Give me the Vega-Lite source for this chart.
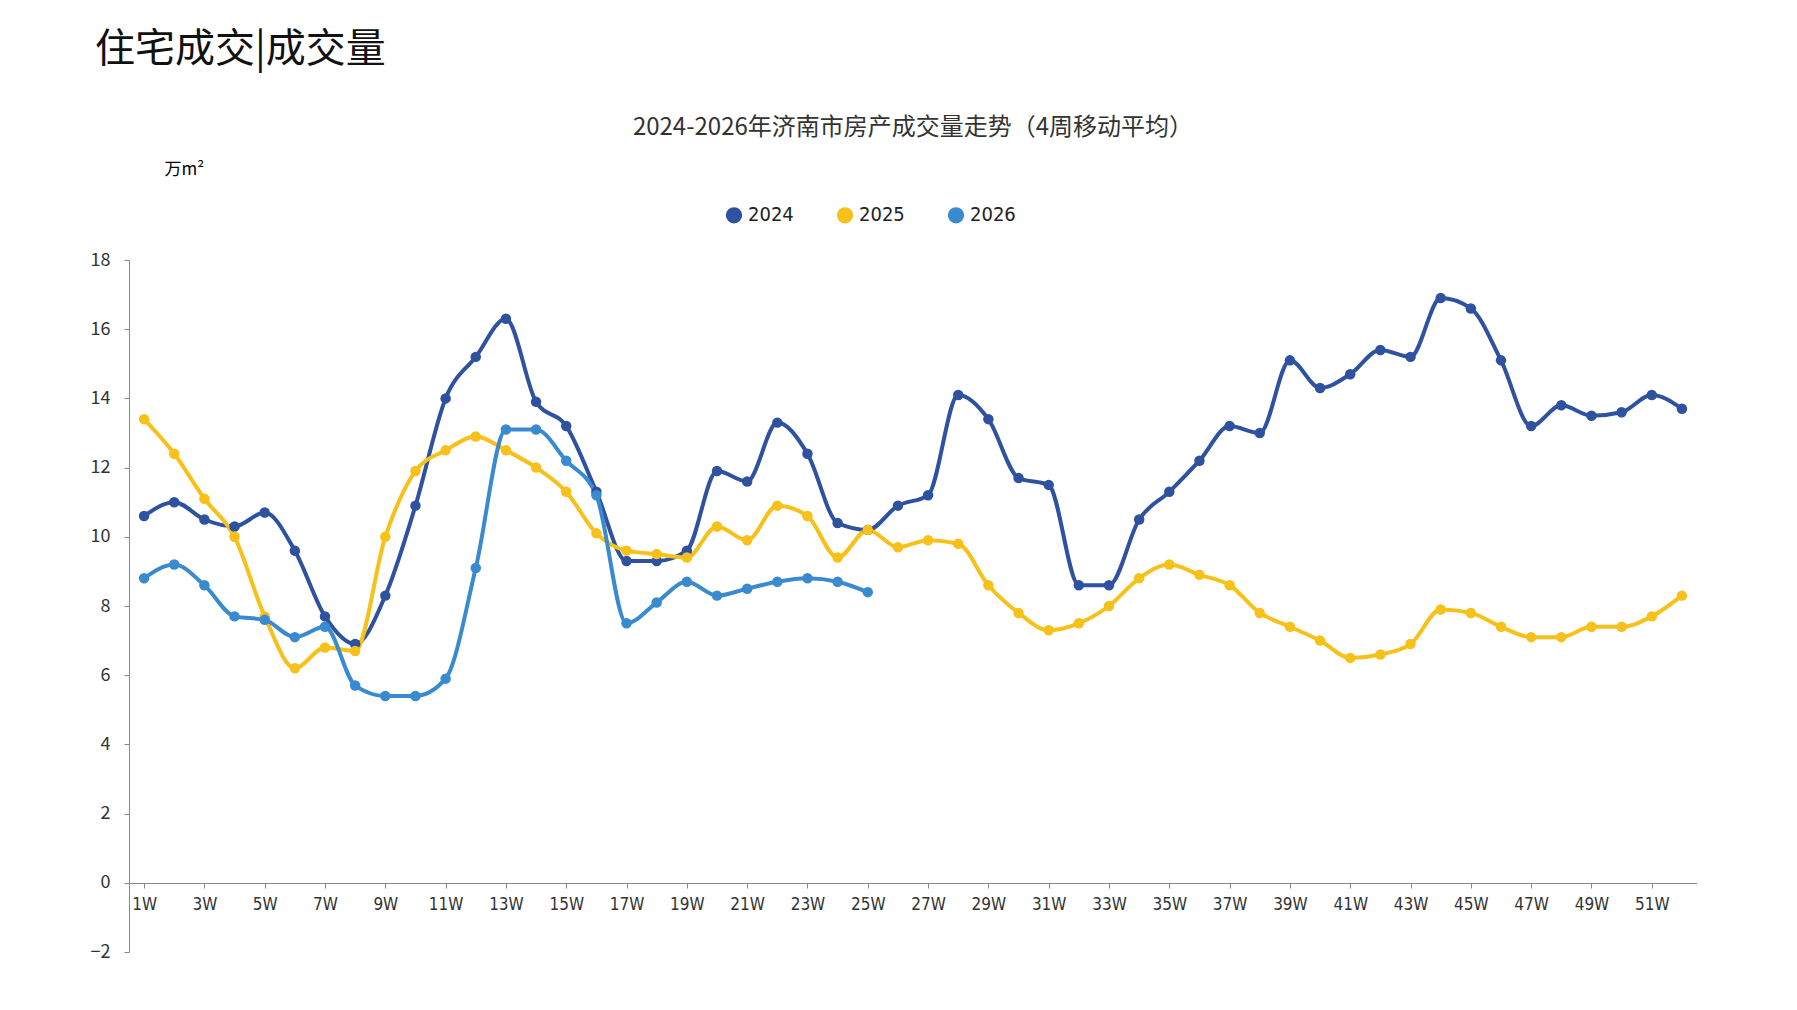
{
  "$schema": "https://vega.github.io/schema/vega-lite/v6.json",
  "padding": {"left": 90, "top": 30, "right": 0, "bottom": 0},
  "background": "white",
  "title": {"text": "住宅成交|成交量", "anchor": "start", "frame": "group", "fontSize": 40, "font": "Noto Sans CJK SC", "fontWeight": "normal", "color": "#111", "dx": -34, "offset": 46},
  "vconcat": [
    {
      "width": 1568,
      "height": 692,
      "title": {"text": "2024-2026年济南市房产成交量走势（4周移动平均）", "anchor": "middle", "fontSize": 24, "font": "Noto Sans CJK SC", "fontWeight": "normal", "color": "#333", "offset": 20},
      "data": {"values": [
        {"s":"2024","w":1,"v":10.6},{"s":"2024","w":2,"v":11.0},{"s":"2024","w":3,"v":10.5},{"s":"2024","w":4,"v":10.3},{"s":"2024","w":5,"v":10.7},{"s":"2024","w":6,"v":9.6},{"s":"2024","w":7,"v":7.7},{"s":"2024","w":8,"v":6.9},{"s":"2024","w":9,"v":8.3},{"s":"2024","w":10,"v":10.9},{"s":"2024","w":11,"v":14.0},{"s":"2024","w":12,"v":15.2},{"s":"2024","w":13,"v":16.3},{"s":"2024","w":14,"v":13.9},{"s":"2024","w":15,"v":13.2},{"s":"2024","w":16,"v":11.3},{"s":"2024","w":17,"v":9.3},{"s":"2024","w":18,"v":9.3},{"s":"2024","w":19,"v":9.6},{"s":"2024","w":20,"v":11.9},{"s":"2024","w":21,"v":11.6},{"s":"2024","w":22,"v":13.3},{"s":"2024","w":23,"v":12.4},{"s":"2024","w":24,"v":10.4},{"s":"2024","w":25,"v":10.2},{"s":"2024","w":26,"v":10.9},{"s":"2024","w":27,"v":11.2},{"s":"2024","w":28,"v":14.1},{"s":"2024","w":29,"v":13.4},{"s":"2024","w":30,"v":11.7},{"s":"2024","w":31,"v":11.5},{"s":"2024","w":32,"v":8.6},{"s":"2024","w":33,"v":8.6},{"s":"2024","w":34,"v":10.5},{"s":"2024","w":35,"v":11.3},{"s":"2024","w":36,"v":12.2},{"s":"2024","w":37,"v":13.2},{"s":"2024","w":38,"v":13.0},{"s":"2024","w":39,"v":15.1},{"s":"2024","w":40,"v":14.3},{"s":"2024","w":41,"v":14.7},{"s":"2024","w":42,"v":15.4},{"s":"2024","w":43,"v":15.2},{"s":"2024","w":44,"v":16.9},{"s":"2024","w":45,"v":16.6},{"s":"2024","w":46,"v":15.1},{"s":"2024","w":47,"v":13.2},{"s":"2024","w":48,"v":13.8},{"s":"2024","w":49,"v":13.5},{"s":"2024","w":50,"v":13.6},{"s":"2024","w":51,"v":14.1},{"s":"2024","w":52,"v":13.7},
        {"s":"2025","w":1,"v":13.4},{"s":"2025","w":2,"v":12.4},{"s":"2025","w":3,"v":11.1},{"s":"2025","w":4,"v":10.0},{"s":"2025","w":5,"v":7.7},{"s":"2025","w":6,"v":6.2},{"s":"2025","w":7,"v":6.8},{"s":"2025","w":8,"v":6.7},{"s":"2025","w":9,"v":10.0},{"s":"2025","w":10,"v":11.9},{"s":"2025","w":11,"v":12.5},{"s":"2025","w":12,"v":12.9},{"s":"2025","w":13,"v":12.5},{"s":"2025","w":14,"v":12.0},{"s":"2025","w":15,"v":11.3},{"s":"2025","w":16,"v":10.1},{"s":"2025","w":17,"v":9.6},{"s":"2025","w":18,"v":9.5},{"s":"2025","w":19,"v":9.4},{"s":"2025","w":20,"v":10.3},{"s":"2025","w":21,"v":9.9},{"s":"2025","w":22,"v":10.9},{"s":"2025","w":23,"v":10.6},{"s":"2025","w":24,"v":9.4},{"s":"2025","w":25,"v":10.2},{"s":"2025","w":26,"v":9.7},{"s":"2025","w":27,"v":9.9},{"s":"2025","w":28,"v":9.8},{"s":"2025","w":29,"v":8.6},{"s":"2025","w":30,"v":7.8},{"s":"2025","w":31,"v":7.3},{"s":"2025","w":32,"v":7.5},{"s":"2025","w":33,"v":8.0},{"s":"2025","w":34,"v":8.8},{"s":"2025","w":35,"v":9.2},{"s":"2025","w":36,"v":8.9},{"s":"2025","w":37,"v":8.6},{"s":"2025","w":38,"v":7.8},{"s":"2025","w":39,"v":7.4},{"s":"2025","w":40,"v":7.0},{"s":"2025","w":41,"v":6.5},{"s":"2025","w":42,"v":6.6},{"s":"2025","w":43,"v":6.9},{"s":"2025","w":44,"v":7.9},{"s":"2025","w":45,"v":7.8},{"s":"2025","w":46,"v":7.4},{"s":"2025","w":47,"v":7.1},{"s":"2025","w":48,"v":7.1},{"s":"2025","w":49,"v":7.4},{"s":"2025","w":50,"v":7.4},{"s":"2025","w":51,"v":7.7},{"s":"2025","w":52,"v":8.3},
        {"s":"2026","w":1,"v":8.8},{"s":"2026","w":2,"v":9.2},{"s":"2026","w":3,"v":8.6},{"s":"2026","w":4,"v":7.7},{"s":"2026","w":5,"v":7.6},{"s":"2026","w":6,"v":7.1},{"s":"2026","w":7,"v":7.4},{"s":"2026","w":8,"v":5.7},{"s":"2026","w":9,"v":5.4},{"s":"2026","w":10,"v":5.4},{"s":"2026","w":11,"v":5.9},{"s":"2026","w":12,"v":9.1},{"s":"2026","w":13,"v":13.1},{"s":"2026","w":14,"v":13.1},{"s":"2026","w":15,"v":12.2},{"s":"2026","w":16,"v":11.2},{"s":"2026","w":17,"v":7.5},{"s":"2026","w":18,"v":8.1},{"s":"2026","w":19,"v":8.7},{"s":"2026","w":20,"v":8.3},{"s":"2026","w":21,"v":8.5},{"s":"2026","w":22,"v":8.7},{"s":"2026","w":23,"v":8.8},{"s":"2026","w":24,"v":8.7},{"s":"2026","w":25,"v":8.4}
      ]},
      "mark": {"type": "line", "interpolate": "monotone", "strokeWidth": 4, "point": {"size": 110, "filled": true, "opacity": 1}},
      "encoding": {
        "x": {"field": "w", "type": "quantitative", "scale": {"domain": [0.5, 52.5], "nice": false, "zero": false},
          "axis": {"values": [1,3,5,7,9,11,13,15,17,19,21,23,25,27,29,31,33,35,37,39,41,43,45,47,49,51], "labelExpr": "datum.value + 'W'", "grid": false, "title": null, "labelFontSize": 17, "labelColor": "#333", "domainColor": "#888", "tickColor": "#888", "offset": -69, "labelPadding": 8, "labelFont": "DejaVu Sans Condensed"}},
        "y": {"field": "v", "type": "quantitative", "scale": {"domain": [-2, 18], "nice": false},
          "axis": {"values": [-2,0,2,4,6,8,10,12,14,16,18], "grid": false, "title": "万m²", "titleAngle": 0, "titleAlign": "left", "titleBaseline": "bottom", "titleX": 35, "titleY": -82, "titleFontSize": 17, "titleFontWeight": "normal", "labelFontSize": 18, "labelColor": "#333", "domainColor": "#888", "tickColor": "#888", "labelPadding": 14}},
        "color": {"field": "s", "type": "nominal", "scale": {"domain": ["2024","2025","2026"], "range": ["#2E52A0", "#F7C11A", "#3A8AD0"]},
          "legend": {"orient": "none", "legendX": 595, "legendY": -55, "direction": "horizontal", "title": null, "labelFontSize": 20, "symbolType": "circle", "symbolSize": 220, "columnPadding": 40, "labelColor": "#222", "labelFont": "DejaVu Sans Condensed"}}
      }
    }
  ],
  "config": {"view": {"stroke": null}, "font": "Noto Sans CJK SC", "concat": {"spacing": 0}}
}
